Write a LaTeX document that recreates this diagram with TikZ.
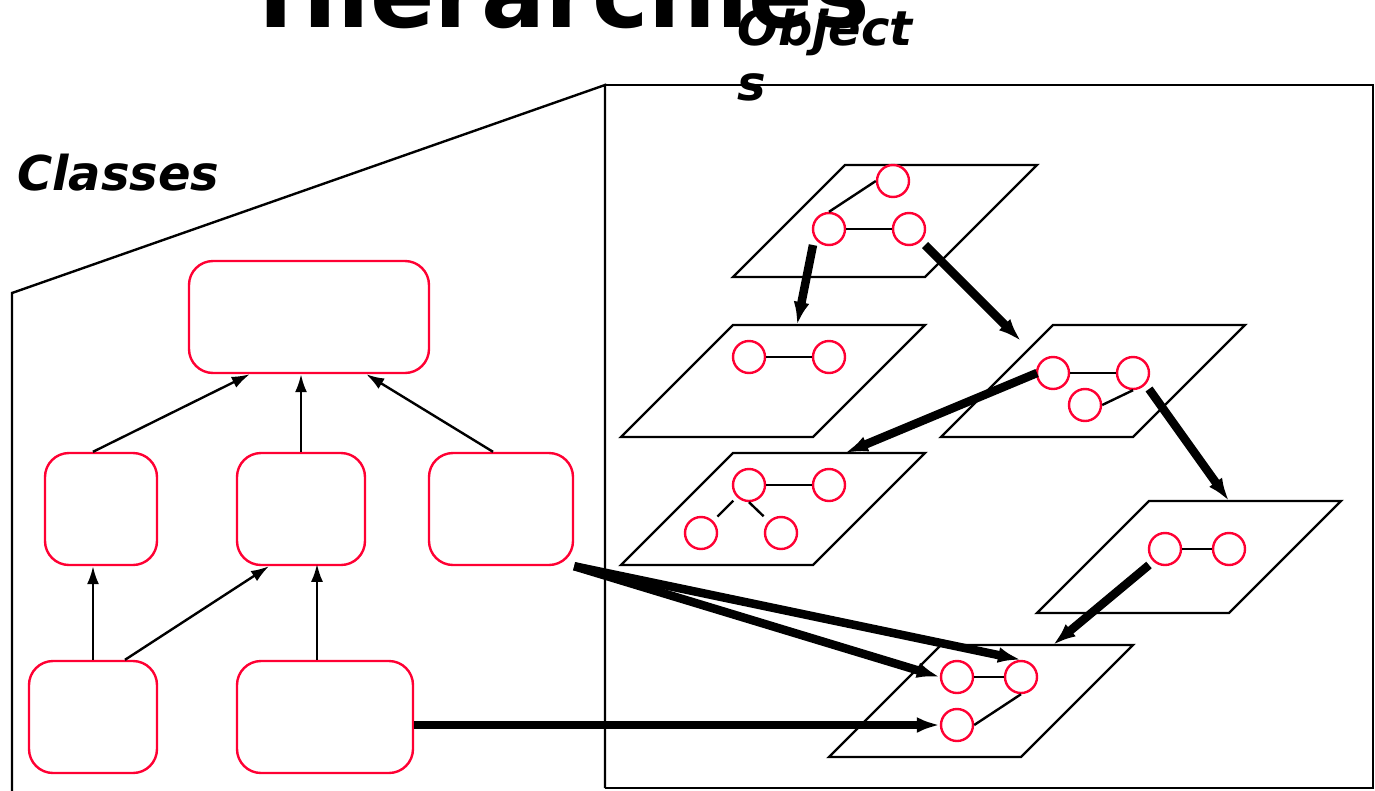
\documentclass[tikz,border=0pt]{standalone}
\usepackage{fontspec}
\setmainfont{DejaVu Sans}
\usetikzlibrary{arrows.meta,calc}
\definecolor{nodered}{RGB}{255,0,51}
\tikzset{
  cls/.style={draw=nodered,line width=2.4pt,rounded corners=24pt,inner sep=0pt,minimum height=112pt},
  obj/.style={circle,draw=nodered,fill=white,line width=2.4pt,inner sep=0pt,minimum size=32pt},
  inh/.style={line width=2.4pt,-{Latex[length=18pt,width=12pt]}},
  inst/.style={line width=8.5pt,-{Latex[length=23pt,width=16pt]}},
  link/.style={line width=2.4pt},
  plane/.style={line width=2.4pt,line join=miter},
  lbl/.style={font=\fontsize{48}{55}\selectfont\bfseries\itshape,inner sep=0pt},
}
\begin{document}
\begin{tikzpicture}[x=1pt,y=-1pt]
\useasboundingbox (0,0) rectangle (1375,790);
% title
\node[font=\fontsize{95}{110}\selectfont\bfseries,inner sep=0pt,anchor=base] (title) at (564,27) {Hierarchies};
% frame
\draw[plane] (12,795) -- (12,293) -- (605,85) -- (605,788);
\draw[plane] (605,85) -- (1373,85) -- (1373,788) -- (605,788);
\node[lbl,anchor=base west] (classes) at (17,190) {Classes};
\node[lbl,anchor=base west,align=left] (objects) at (737,100) {Object\\s};
% class boxes
\node[cls,minimum width=240pt] (top) at (309,317) {};
\node[cls,minimum width=112pt] (ml) at (101,509) {};
\node[cls,minimum width=128pt] (mc) at (301,509) {};
\node[cls,minimum width=144pt] (mr) at (501,509) {};
\node[cls,minimum width=128pt] (bl) at (93,717) {};
\node[cls,minimum width=176pt] (bc) at (325,717) {};
% inheritance arrows
\draw[inh] (ml.north -| bl.north) -- ($(top.south west)+(62,0)$);
\draw[inh] (mc.north) -- (mc.north |- top.south);
\draw[inh] ($(mr.north)+(-8,0)$) -- ($(top.south east)+(-64,0)$);
\draw[inh] (bl.north) -- (bl.north |- ml.south);
\draw[inh] ($(bl.north)+(32,0)$) -- ($(mc.south)+(-32,0)$);
\draw[inh] ($(bc.north)+(-8,0)$) -- ($(bc.north)+(-8,-96)$);
% object planes
\foreach \x/\y in {733/277, 621/437, 941/437, 621/565, 1037/613, 829/757}
  \draw[plane] (\x,\y) -- ++(192,0) -- ++(112,-112) -- ++(-192,0) -- cycle;
% objects
\node[obj] (p1a) at (893,181) {};
\node[obj] (p1b) at (829,229) {};
\node[obj] (p1c) at (909,229) {};
\node[obj] (p2a) at (749,357) {};
\node[obj] (p2b) at (829,357) {};
\node[obj] (p3a) at (1053,373) {};
\node[obj] (p3b) at (1133,373) {};
\node[obj] (p3c) at (1085,405) {};
\node[obj] (p4a) at (749,485) {};
\node[obj] (p4b) at (829,485) {};
\node[obj] (p4c) at (701,533) {};
\node[obj] (p4d) at (781,533) {};
\node[obj] (p5a) at (1165,549) {};
\node[obj] (p5b) at (1229,549) {};
\node[obj] (p6a) at (957,677) {};
\node[obj] (p6b) at (1021,677) {};
\node[obj] (p6c) at (957,725) {};
% links
\draw[link] (p1b) -- (p1c);
\draw[link] (p1b.north) -- (p1a.west);
\draw[link] (p2a) -- (p2b);
\draw[link] (p3a) -- (p3b);
\draw[link] (p3b.south) -- (p3c.east);
\draw[link] (p4a) -- (p4b);
\draw[link,shorten <=5pt,shorten >=6pt] (p4a) -- (p4c);
\draw[link,shorten >=7pt] (p4a.south) -- (p4d);
\draw[link] (p5a) -- (p5b);
\draw[link] (p6a) -- (p6b);
\draw[link] (p6b.south) -- (p6c.east);
% instance arrow targets
\coordinate (t1) at (797,325);
\coordinate (t2) at (1021,341);
\coordinate (t3) at (845,453);
\coordinate (t4) at (1229,501);
\coordinate (t5) at (1053,645);
\coordinate (s1) at (813,245);
\coordinate (s2) at (925,245);
\coordinate (s3) at (1037,373);
\coordinate (s4) at (1149,389);
\coordinate (s5) at (1149,565);
% instance arrows
\draw[inst] (s1) -- (t1);
\draw[inst] (s2) -- (t2);
\draw[inst] (s3) -- (t3);
\draw[inst] (s4) -- (t4);
\draw[inst] (s5) -- (t5);
\draw[inst] (mr.south east) -- (p6a.west);
\draw[inst] (mr.south east) -- (p6b.north);
\draw[inst] (p6c -| bc.east) -- (p6c.west);
\end{tikzpicture}
\end{document}
